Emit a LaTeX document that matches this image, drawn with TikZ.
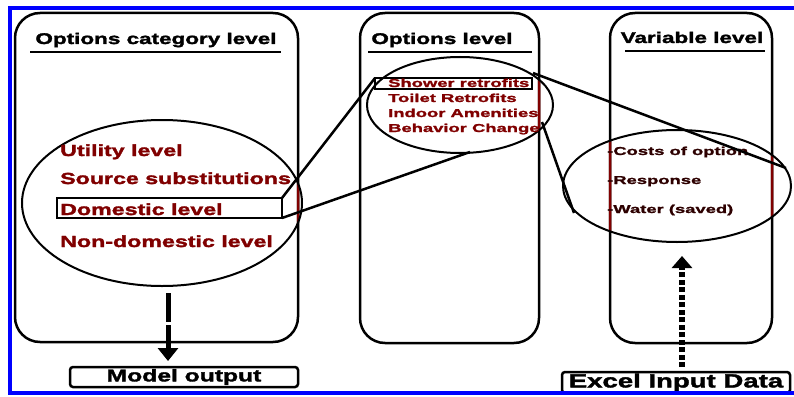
\documentclass[tikz,border=0pt]{standalone}
\usepackage{fontspec}
\usetikzlibrary{arrows.meta,shapes.geometric}
\newfontfamily\wf[FakeStretch=1.45,BoldFeatures={FakeBold=2}]{Liberation Sans}
\newfontfamily\wfs[FakeStretch=1.6,BoldFeatures={FakeBold=1.6}]{Liberation Sans}
\definecolor{dred}{RGB}{128,0,0}
\definecolor{dkr}{RGB}{45,0,0}
\definecolor{frameblue}{RGB}{0,0,255}
\begin{document}
\begin{tikzpicture}[x=1pt,y=-1pt,
  col/.style={draw, line width=2.5pt, rounded corners=25pt, inner sep=0pt, outer sep=0pt},
  ell/.style={draw, ellipse, line width=2pt, inner sep=0pt, outer sep=0pt},
  hdr/.style={anchor=base, inner sep=0pt, font=\wf\bfseries\fontsize{15.5}{16}\selectfont},
  bigred/.style={anchor=base west, inner sep=0pt, text=dred, font=\wf\bfseries\fontsize{16}{17}\selectfont},
  smred/.style={anchor=base west, inner sep=0pt, text=dred, font=\wfs\bfseries\fontsize{11.5}{12}\selectfont},
  smblk/.style={anchor=base west, inner sep=0pt, text=dkr, font=\wfs\bfseries\fontsize{11.5}{12}\selectfont},
  hline/.style={line width=2.5pt},
  conn/.style={line width=2.5pt},
  outbox/.style={draw, line width=2.5pt, rounded corners=3pt, inner sep=0pt, outer sep=0pt},
  selbox/.style={draw, line width=2pt, inner sep=0pt, outer sep=0pt}
]
\useasboundingbox (0,0) rectangle (794,396);

% columns
\node[col, minimum width=283pt, minimum height=329pt] (lcol) at (156.5,177.5) {};
\node[col, minimum width=179pt, minimum height=330pt] (mcol) at (449.5,178) {};
\node[col, minimum width=162pt, minimum height=330pt] (rcol) at (691,178) {};

% column edges inside the ellipses turn red
\begin{scope}
  \clip (162,203) ellipse [x radius=140, y radius=83];
  \draw[dred, line width=2.5pt, rounded corners=25pt] (lcol.north west) rectangle (lcol.south east);
\end{scope}
\begin{scope}
  \clip (460,105) ellipse [x radius=93, y radius=48];
  \draw[dred, line width=2.5pt, rounded corners=25pt] (mcol.north west) rectangle (mcol.south east);
\end{scope}
\begin{scope}
  \clip (677,186) ellipse [x radius=114, y radius=56];
  \draw[dred, line width=2.5pt, rounded corners=25pt] (rcol.north west) rectangle (rcol.south east);
\end{scope}

% headers
\node[hdr] (h1) at (156,44) {Options category level};
\node[hdr] (h2) at (442,44) {Options level};
\node[hdr] (h3) at (692,43) {Variable level};
\draw[hline] (30,52) -- (281,52);
\draw[hline] (368,52) -- (532,52);
\draw[hline] (625,51) -- (765,51);

% ellipses
\node[ell, minimum width=280pt, minimum height=166pt] (lell) at (162,203) {};
\node[ell, minimum width=186pt, minimum height=96pt] (mell) at (460,105) {};
\node[ell, minimum width=228pt, minimum height=112pt] (rell) at (677,186) {};

% left ellipse texts
\node[bigred] (t1) at (60,156) {Utility level};
\node[bigred] (t2) at (60,184) {Source substitutions};
\node[selbox, minimum width=225pt, minimum height=20pt] (dom) at (169.5,208) {};
\node[bigred] (t3) at (60,215) {Domestic level};
\node[bigred] (t4) at (60,247) {Non-domestic level};

% middle ellipse texts
\node[selbox, minimum width=157pt, minimum height=11pt] (shw) at (453.5,83.5) {};
\node[smred] (m1t) at (388,87) {Shower retrofits};
\node[smred] (m2t) at (388,102) {Toilet Retrofits};
\node[smred] (m3t) at (388,117) {Indoor Amenities};
\node[smred] (m4t) at (388,132) {Behavior Change};

% right ellipse texts
\node[smblk] (v1) at (607,155) {-Costs of option};
\node[smblk] (v2) at (607,184) {-Response};
\node[smblk] (v3) at (607,213) {-Water (saved)};

% zoom connectors
\coordinate (mb) at (470,152);
\coordinate (mtr) at (533,73);
\coordinate (mrb) at (542,122);
\coordinate (rr) at (786,168);
\coordinate (rl) at (574,213);
\draw[conn] (dom.north east) -- (shw.north west);
\draw[conn] (dom.south east) -- (mb);
\draw[conn] (mtr) -- (rr);
\draw[conn] (mrb) -- (rl);

% output / input boxes
\node[outbox, minimum width=228pt, minimum height=20pt, font=\wf\bfseries\fontsize{17}{18}\selectfont] (mo) at (184,377) {Model output};
\node[outbox, minimum width=228pt, minimum height=21pt, font=\wf\bfseries\fontsize{19}{20}\selectfont] (ex) at (676,382.5) {Excel Input Data};

% arrows
\coordinate (dtop) at (168,293);
\coordinate (dbot) at (168,361);
\coordinate (ubot) at (682,367);
\coordinate (utop) at (682,256);
\draw[line width=5pt, dash pattern=on 29pt off 3pt, -{Triangle[width=20pt,length=13pt]}] (dtop) -- (dbot);
\draw[line width=5.5pt, dash pattern=on 5pt off 2.5pt, -{Triangle[width=20pt,length=12pt]}] (ubot) -- (utop);

% blue frame
\draw[frameblue, line width=4pt] (794,8) -- (10,8) -- (10,393) -- (794,393);
\end{tikzpicture}
\end{document}
